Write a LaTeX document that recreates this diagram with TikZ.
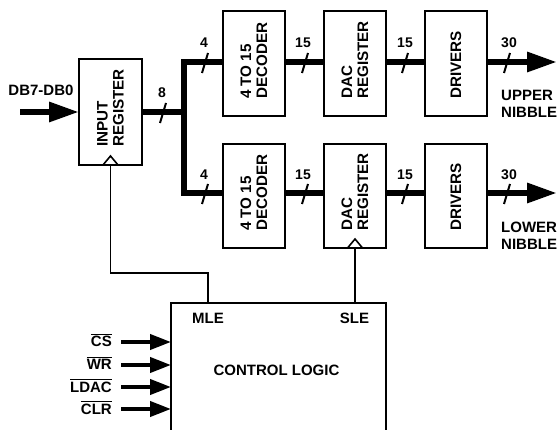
\documentclass[tikz,border=0pt]{standalone}
\usepackage{fontspec}
\setmainfont{Liberation Sans}
\usetikzlibrary{arrows.meta,calc}
\newcommand{\myovl}[1]{\leavevmode\vbox{\hrule height 1.4pt \kern 1.3pt \hbox{#1}}}
\begin{document}
\begin{tikzpicture}[x=1pt,y=-1pt,
  blk/.style={draw,line width=1.4pt,inner sep=0pt,outer sep=0pt,minimum width=62pt,minimum height=105pt},
  lbl/.style={rotate=90,anchor=west,align=left,inner sep=0pt,font=\fontsize{15.2}{16}\selectfont\bfseries},
  txt/.style={inner sep=0pt,font=\fontsize{15}{16.5}\selectfont\bfseries},
  num/.style={inner sep=0pt,font=\fontsize{14}{15}\selectfont\bfseries},
  bus/.style={line width=6pt},
  sig/.style={line width=1.6pt},
  tick/.style={line width=2pt},
  cin/.style={line width=4pt,-{Triangle[length=21pt,width=15pt]}},
  bigarr/.style={line width=6pt,-{Triangle[length=30pt,width=19pt]}}
]
\useasboundingbox (0,0) rectangle (557,430);

% blocks
\node[blk,minimum width=63pt,minimum height=106pt] (inreg) at (110.5,112) {};
\node[blk] (dec1) at (254,63.5) {};
\node[blk] (dac1) at (355,63.5) {};
\node[blk] (drv1) at (456,63.5) {};
\node[blk,minimum height=104pt] (dec2) at (254,196) {};
\node[blk,minimum height=104pt] (dac2) at (355,196) {};
\node[blk,minimum height=104pt] (drv2) at (456,196) {};

% block labels
\node[lbl] (tir) at ($(inreg.south)+(0,-18)$) {INPUT\\REGISTER};
\node[lbl] (tdec1) at ($(dec1.south)+(0,-17)$) {4 TO 15\\DECODER};
\node[lbl] (tdac1) at ($(dac1.south)+(0,-17)$) {DAC\\REGISTER};
\node[lbl] (tdrv1) at ($(drv1.south)+(0,-17)$) {DRIVERS};
\node[lbl] (tdec2) at ($(dec2.south)+(0,-17)$) {4 TO 15\\DECODER};
\node[lbl] (tdac2) at ($(dac2.south)+(0,-17)$) {DAC\\REGISTER};
\node[lbl] (tdrv2) at ($(drv2.south)+(0,-17)$) {DRIVERS};

% control logic box (open at bottom)
\node[minimum width=215pt,minimum height=140pt,inner sep=0pt,outer sep=0pt] (ctl) at (278.5,373) {};
\draw[sig] (ctl.south west) -- (ctl.north west) -- (ctl.north east) -- (ctl.south east);
\node[txt] (mle) at (208,318) {MLE};
\node[txt] (sle) at (354.5,318) {SLE};
\node[txt] (cl) at (276.5,370) {CONTROL LOGIC};

% bus coordinates
\coordinate (busU) at (0,62);
\coordinate (busL) at (0,193);
\coordinate (bj) at (184,112);
\coordinate (din) at (20,112);
\coordinate (outU) at (557,62);
\coordinate (outL) at (557,193);

% input
\node[txt] (dbl) at (41,90) {DB7-DB0};
\draw[bigarr] (din) -- (inreg.west);

% buses
\draw[bus] (inreg.east) -- (bj);
\draw[bus] (dec1.west |- busU) -| (bj) |- (dec2.west |- busL);
\draw[bus] (dec1.east |- busU) -- (dac1.west |- busU);
\draw[bus] (dac1.east |- busU) -- (drv1.west |- busU);
\draw[bigarr] (drv1.east |- busU) -- (outU);
\draw[bus] (dec2.east |- busL) -- (dac2.west |- busL);
\draw[bus] (dac2.east |- busL) -- (drv2.west |- busL);
\draw[bigarr] (drv2.east |- busL) -- (outL);

% bus slashes
\foreach \x/\y in {163/112,205/62,305/62,405/62,507/62,205/193,305/193,405/193,507/193}
  \draw[tick] (\x-3,\y+11) -- ++(6,-20);

% bus widths
\node[num] (n8) at (162,93) {8};
\node[num] (n4a) at (204,43) {4};
\node[num] (n15a) at (303,43) {15};
\node[num] (n15b) at (405,43) {15};
\node[num] (n30a) at (509,43) {30};
\node[num] (n4b) at (204,175) {4};
\node[num] (n15c) at (303,175) {15};
\node[num] (n15d) at (405,175) {15};
\node[num] (n30b) at (509,175) {30};

% output labels
\node[txt,align=left,anchor=west] (up) at (501,104) {UPPER\\NIBBLE};
\node[txt,align=left,anchor=west] (lo) at (501,236) {LOWER\\NIBBLE};

% clock chevrons
\draw[sig] ($(inreg.south)+(-7.5,0)$) -- ++(7.5,-9) -- ++(7.5,9);
\draw[sig] ($(dac2.south)+(-7.5,0)$) -- ++(7.5,-9) -- ++(7.5,9);

% strobe lines
\coordinate (k) at (208,273);
\draw[sig] (inreg.south) |- (k) -- (k |- ctl.north);
\draw[sig] (dac2.south) -- (dac2.south |- ctl.north);

% control inputs
\coordinate (c1) at (121,342);
\coordinate (c2) at (121,365);
\coordinate (c3) at (121,387);
\coordinate (c4) at (121,409);
\node[txt,anchor=base east] (cs) at (112,347) {\myovl{CS}};
\node[txt,anchor=base east] (wr) at (112,370) {\myovl{WR}};
\node[txt,anchor=base east] (ldac) at (112,392) {\myovl{LDAC}};
\node[txt,anchor=base east] (clr) at (112,414) {\myovl{CLR}};
\draw[cin] (c1) -- (ctl.west |- c1);
\draw[cin] (c2) -- (ctl.west |- c2);
\draw[cin] (c3) -- (ctl.west |- c3);
\draw[cin] (c4) -- (ctl.west |- c4);
\end{tikzpicture}
\end{document}
